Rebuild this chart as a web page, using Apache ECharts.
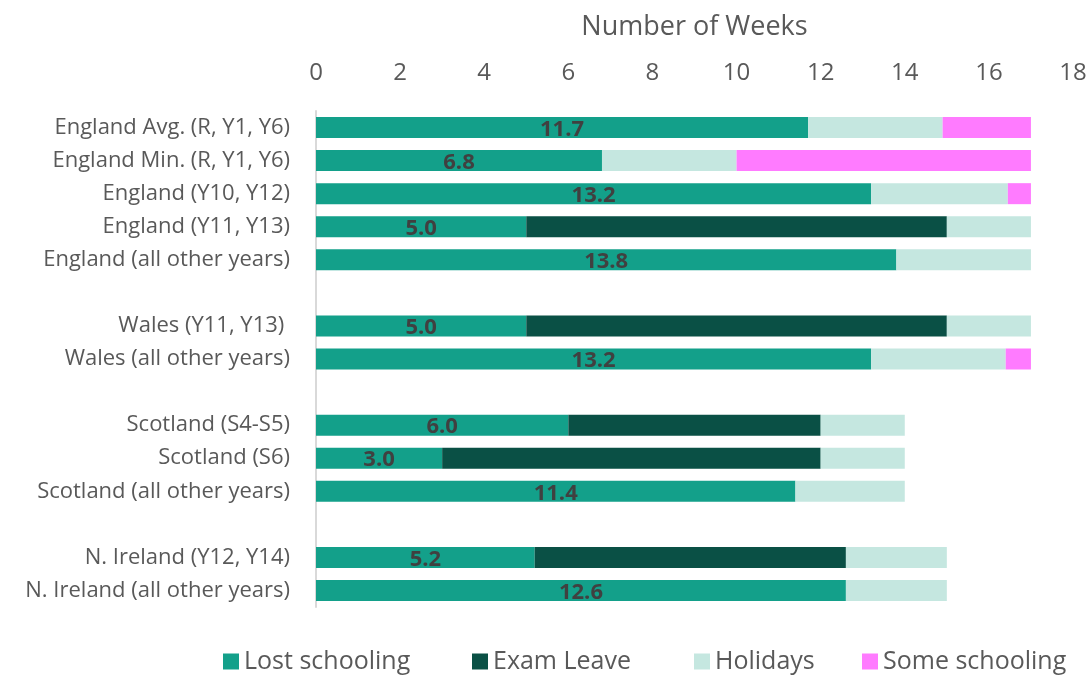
<!DOCTYPE html>
<html>
<head>
<meta charset="utf-8">
<script src="https://cdn.jsdelivr.net/npm/echarts@6/dist/echarts.min.js"></script>
<style>html,body{margin:0;padding:0;background:#fff}#c{width:1092px;height:682px}</style>
</head>
<body>
<div id="c"></div>
<script>
const categories = [
  'England Avg. (R, Y1, Y6)',
  'England Min. (R, Y1, Y6)',
  'England (Y10, Y12)',
  'England (Y11, Y13)',
  'England (all other years)',
  ' ',
  'Wales (Y11, Y13) ',
  'Wales (all other years)',
  '  ',
  'Scotland (S4-S5)',
  'Scotland (S6)',
  'Scotland (all other years)',
  '   ',
  'N. Ireland (Y12, Y14)',
  'N. Ireland (all other years)'
];
const seriesNames = ['Lost schooling', 'Exam Leave', 'Holidays', 'Some schooling'];
const lostSchooling = [11.7, 6.8, 13.2, 5.0, 13.8, null, 5.0, 13.2, null, 6.0, 3.0, 11.4, null, 5.2, 12.6];
const examLeave     = [null, null, null, 10.0, null, null, 10.0, null, null, 6.0, 9.0, null, null, 7.4, null];
const holidays      = [3.2, 3.2, 3.25, 2.0, 3.2, null, 2.0, 3.2, null, 2.0, 2.0, 2.6, null, 2.4, 2.4];
const someSchooling = [2.1, 7.0, 0.55, null, null, null, null, 0.6, null, null, null, null, null, null, null];
const xTicks = { min: 0, max: 18, interval: 2 };

const font = '"Open Sans", sans-serif';
const colors = ['#13a08a', '#0a5045', '#c5e7e0', '#ff7bff'];
const legendLefts = [218, 467, 689, 857];
const chart = echarts.init(document.getElementById('c'));
const base = { type: 'bar', stack: 'weeks', barWidth: 21 };
chart.setOption({
  animation: false,
  color: colors,
  textStyle: { fontFamily: font },
  grid: { left: 316, right: 19, top: 111, bottom: 75, outerBoundsMode: 'none' },
  legend: seriesNames.map((n, i) => ({
    data: [n], bottom: 3, left: legendLefts[i],
    itemWidth: 16, itemHeight: 16, itemGap: 0, icon: 'rect',
    textStyle: { fontSize: 25, color: '#595959', fontFamily: font }
  })),
  xAxis: {
    type: 'value', position: 'top',
    min: xTicks.min, max: xTicks.max, interval: xTicks.interval,
    name: 'Number of Weeks', nameLocation: 'middle', nameGap: 70,
    nameTextStyle: { fontSize: 27, color: '#595959', fontFamily: font },
    axisLine: { show: false }, axisTick: { show: false }, splitLine: { show: false },
    axisLabel: { fontSize: 24, color: '#595959', margin: 26, fontFamily: font }
  },
  yAxis: {
    type: 'category', data: categories, inverse: true,
    axisLine: { show: true, lineStyle: { color: '#d9d9d9', width: 2 } },
    axisTick: { show: false },
    axisLabel: { fontSize: 22, color: '#595959', margin: 26, fontFamily: font }
  },
  series: [
    Object.assign({}, base, {
      name: seriesNames[0], data: lostSchooling,
      label: {
        show: true, position: 'inside', offset: [0, 2],
        formatter: p => p.value == null ? '' : Number(p.value).toFixed(1),
        fontSize: 22, fontWeight: 'bold', color: '#404040', fontFamily: font
      }
    }),
    Object.assign({}, base, { name: seriesNames[1], data: examLeave }),
    Object.assign({}, base, { name: seriesNames[2], data: holidays }),
    Object.assign({}, base, { name: seriesNames[3], data: someSchooling })
  ]
});
</script>
</body>
</html>
